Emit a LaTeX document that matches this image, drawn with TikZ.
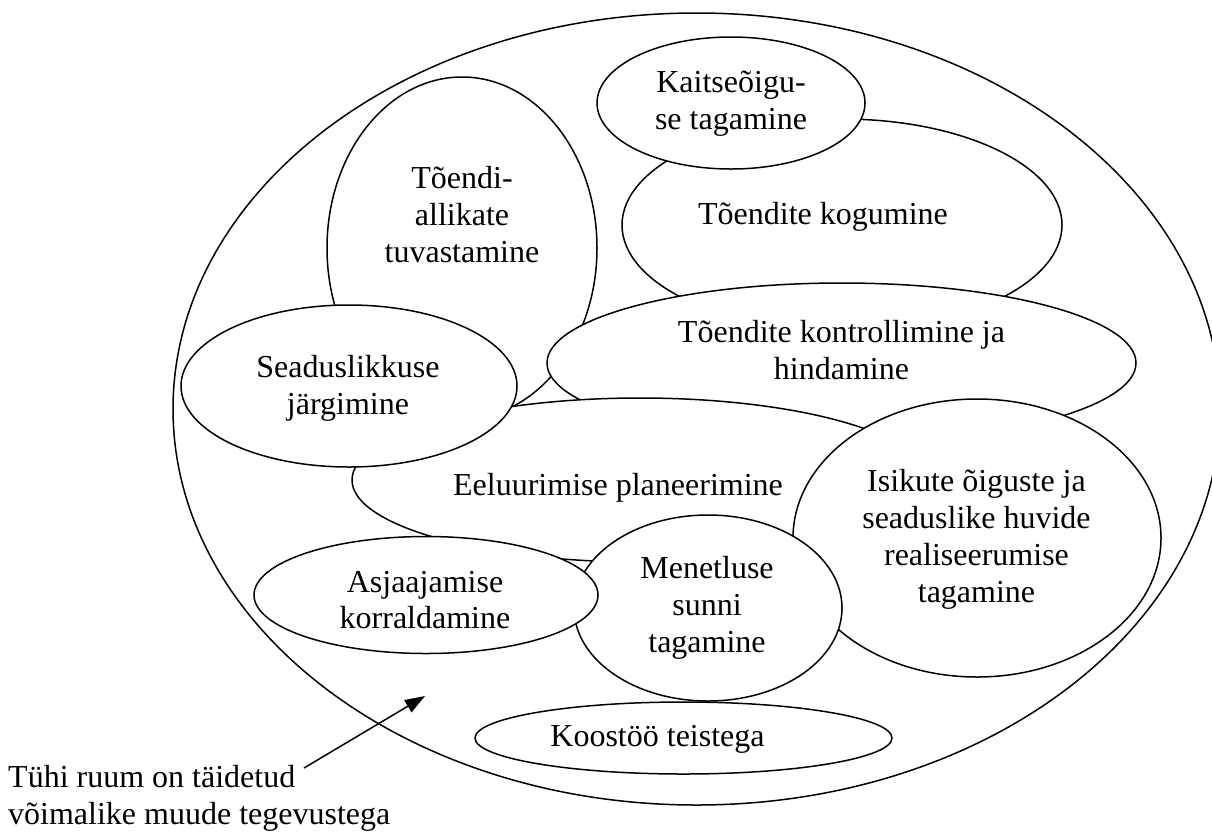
\documentclass[tikz,border=0pt]{standalone}
\usepackage{fontspec}
\setmainfont{Liberation Serif}
\usetikzlibrary{shapes.geometric,arrows.meta}
\begin{document}
\begin{tikzpicture}[x=1pt,y=-1pt,
  bubble/.style={ellipse, draw=black, fill=white, line width=1.5pt, inner sep=0pt},
  txt/.style={font=\fontsize{32}{36.8}\selectfont, align=center, inner sep=0pt},
  pointer/.style={line width=1.5pt, -{Triangle[length=20pt,width=14pt]}}]
\useasboundingbox (0,0) rectangle (1212,831);
\clip (0,0) rectangle (1212,831);

% ellipses, from the lowest layer to the topmost
\node[bubble, minimum width=1047pt, minimum height=792pt] (whole) at (696.5,409) {};
\node[bubble, minimum width=440pt, minimum height=212pt] (kogumine) at (842,225) {};
\node[bubble, minimum width=268pt, minimum height=132pt] (kaitse) at (731,103) {};
\node[bubble, minimum width=270pt, minimum height=342pt] (allikad) at (462,248) {};
\node[bubble, minimum width=589pt, minimum height=160pt] (kontroll) at (841.5,363) {};
\node[bubble, minimum width=576pt, minimum height=164pt] (planeer) at (640,480) {};
\node[bubble, minimum width=336pt, minimum height=162pt] (seadus) at (349,386) {};
\node[bubble, minimum width=368pt, minimum height=278pt] (isikud) at (977,538) {};
\node[bubble, minimum width=268pt, minimum height=186pt] (sund) at (708,608) {};
\node[bubble, minimum width=344pt, minimum height=117pt] (asjaajamine) at (426,595) {};
\node[bubble, minimum width=417pt, minimum height=72pt] (koostoo) at (683.5,738) {};

% texts of the ellipses
\node[txt] (t-kaitse) at (731,104) {Kaitseõigu-\\se tagamine};
\node[txt] (t-kogumine) at (823,216.5) {Tõendite kogumine};
\node[txt] (t-allikad) at (462,214.5) {Tõendi-\\allikate\\tuvastamine};
\node[txt] (t-kontroll) at (841.5,350) {Tõendite kontrollimine ja\\hindamine};
\node[txt] (t-seadus) at (348,388.5) {Seaduslikkuse\\järgimine};
\node[txt] (t-planeer) at (618,487.5) {Eeluurimise planeerimine};
\node[txt] (t-isikud) at (976.5,539.5) {Isikute õiguste ja\\seaduslike huvide\\realiseerumise\\tagamine};
\node[txt] (t-sund) at (707,608) {Menetluse\\sunni\\tagamine};
\node[txt] (t-asjaajamine) at (425,600) {Asjaajamise\\korraldamine};
\node[txt] (t-koostoo) at (657.5,739.5) {Koostöö teistega};

% note with its pointer into the free space
\node[txt, align=left, anchor=west] (note) at (8,798) {Tühi ruum on täidetud\\võimalike muude tegevustega};
\coordinate (pointer-start) at (304,768);
\coordinate (pointer-end) at (425,696);
\draw[pointer] (pointer-start) -- (pointer-end);
\end{tikzpicture}
\end{document}
